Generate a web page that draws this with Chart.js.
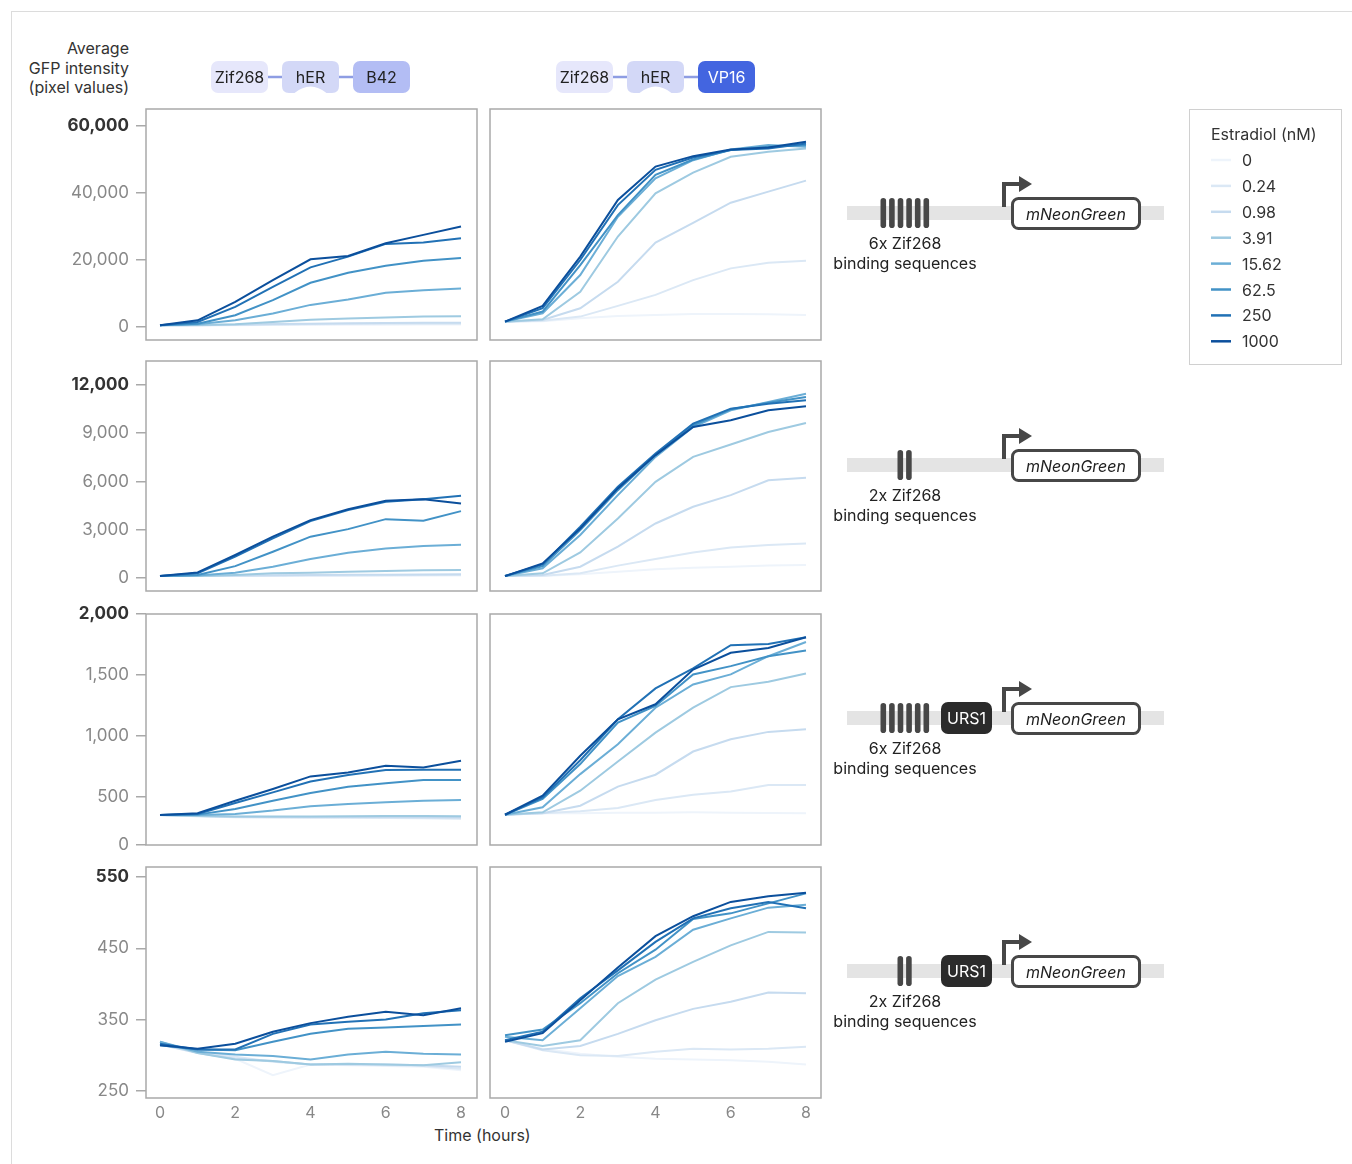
<!DOCTYPE html>
<html><head><meta charset="utf-8">
<script src="https://cdn.jsdelivr.net/npm/chart.js@4.4.1/dist/chart.umd.min.js"></script>
<style>
body{margin:0;background:#fff;font-family:Inter,"DejaVu Sans",sans-serif;}
#wrap{position:relative;width:1352px;height:1164px;overflow:hidden;background:#fff;}
#wrap canvas{position:absolute;}
#frame{position:absolute;left:11px;top:11px;width:1400px;height:1200px;border-left:1px solid #dcdcdc;border-top:1px solid #dcdcdc;}
.txt{position:absolute;color:#333;font-size:16px;white-space:nowrap;}
svg{position:absolute;left:0;top:0;}
</style></head><body><div id="wrap"><div id="frame"></div>
<div class="txt" style="left:0;width:129px;top:39px;text-align:right;line-height:19.6px;">Average<br>GFP intensity<br>(pixel values)</div>
<div class="txt" style="left:434px;top:1125px;line-height:20px;">Time (hours)</div>
</div>
<script>
// ---------- data ----------
const hours = [0, 1, 2, 3, 4, 5, 6, 7, 8];
const concentrations = ['0', '0.24', '0.98', '3.91', '15.62', '62.5', '250', '1000'];
const seriesColors = ['#eef4fb', '#dbe8f5', '#c6dbef', '#9ecae1', '#6baed6', '#4292c6', '#2171b5', '#0b4f9c'];
const xTickValues = [0, 2, 4, 6, 8];
const yTicksRow1 = [0, 20000, 40000, 60000];
const yTicksRow2 = [0, 3000, 6000, 9000, 12000];
const yTicksRow3 = [0, 500, 1000, 1500, 2000];
const yTicksRow4 = [250, 350, 450, 550];

// rows of each array follow the order of `concentrations`
const b42_6x = [
  [500, 500, 550, 600, 650, 700, 700, 750, 750],
  [500, 520, 600, 700, 800, 900, 950, 1000, 1000],
  [500, 550, 700, 900, 1000, 1100, 1200, 1250, 1300],
  [500, 600, 800, 1500, 2200, 2500, 2800, 3100, 3200],
  [500, 800, 2000, 4000, 6600, 8200, 10200, 11000, 11500],
  [500, 1000, 3500, 8000, 13200, 16200, 18300, 19800, 20600],
  [500, 1500, 6000, 12000, 17800, 21000, 24800, 25200, 26500],
  [500, 2000, 7500, 14000, 20200, 21200, 25000, 27500, 30000]
];
const vp16_6x = [
  [1600, 1700, 2600, 3300, 3600, 3900, 3900, 3800, 3600],
  [1600, 1900, 3100, 6300, 9600, 14000, 17500, 19200, 19800],
  [1600, 2100, 5600, 13500, 25200, 31100, 37100, 40400, 43700],
  [1600, 2300, 10500, 27000, 39900, 46100, 50800, 52300, 53300],
  [1600, 4100, 15500, 32900, 44400, 49800, 53000, 54300, 53800],
  [1600, 4600, 18500, 33400, 45400, 50000, 52800, 53800, 54300],
  [1600, 5600, 20000, 36400, 46900, 50600, 52800, 53300, 54800],
  [1600, 6300, 21000, 37900, 47900, 51000, 53000, 53600, 55300]
];
const b42_2x = [
  [120, 120, 125, 130, 135, 140, 140, 145, 150],
  [120, 120, 130, 140, 150, 160, 170, 180, 190],
  [120, 130, 150, 170, 190, 200, 210, 220, 230],
  [120, 120, 190, 290, 330, 390, 430, 480, 500],
  [120, 150, 330, 700, 1180, 1570, 1840, 1990, 2070],
  [120, 190, 740, 1630, 2570, 3040, 3660, 3560, 4160],
  [120, 290, 1330, 2460, 3540, 4220, 4740, 4900, 5110],
  [120, 350, 1430, 2570, 3600, 4280, 4800, 4900, 4630]
];
const vp16_2x = [
  [120, 120, 230, 390, 540, 640, 700, 770, 810],
  [120, 140, 290, 770, 1180, 1590, 1900, 2050, 2150],
  [120, 190, 700, 1950, 3390, 4430, 5150, 6080, 6230],
  [120, 290, 1590, 3700, 5980, 7530, 8300, 9080, 9640],
  [120, 600, 2670, 5150, 7530, 9390, 10430, 10940, 11460],
  [120, 740, 2980, 5460, 7640, 9500, 10490, 10900, 11260],
  [120, 850, 3190, 5670, 7740, 9600, 10530, 10840, 11050],
  [120, 910, 3080, 5570, 7640, 9390, 9810, 10430, 10680]
];
const b42_6x_urs1 = [
  [350, 342, 336, 332, 330, 333, 333, 333, 327],
  [353, 343, 335, 332, 330, 330, 328, 326, 322],
  [353, 345, 338, 336, 336, 337, 336, 335, 332],
  [353, 345, 340, 340, 340, 342, 345, 345, 342],
  [353, 353, 361, 389, 424, 443, 457, 470, 476],
  [353, 356, 402, 470, 533, 585, 614, 639, 639],
  [353, 361, 451, 538, 628, 680, 721, 723, 723],
  [353, 367, 470, 566, 669, 702, 756, 742, 797]
];
const vp16_6x_urs1 = [
  [355, 367, 367, 372, 372, 375, 372, 370, 367],
  [355, 367, 383, 410, 476, 519, 546, 598, 598],
  [355, 367, 429, 585, 683, 873, 974, 1034, 1055],
  [355, 375, 552, 791, 1028, 1232, 1401, 1445, 1513],
  [355, 416, 688, 933, 1232, 1423, 1505, 1654, 1771],
  [355, 484, 770, 1110, 1246, 1505, 1573, 1654, 1700],
  [355, 497, 802, 1137, 1390, 1554, 1744, 1755, 1809],
  [355, 511, 838, 1137, 1260, 1545, 1682, 1722, 1809]
];
const b42_2x_urs1 = [
  [316, 306, 295, 272, 287, 286, 285, 284, 279],
  [316, 305, 298, 291, 287, 287, 286, 285, 281],
  [315, 303, 295, 292, 287, 287, 287, 286, 284],
  [319, 303, 294, 292, 287, 288, 287, 286, 290],
  [319, 305, 301, 299, 294, 301, 305, 302, 301],
  [314, 308, 307, 319, 330, 337, 339, 341, 343],
  [316, 308, 308, 330, 343, 347, 350, 359, 363],
  [314, 309, 316, 333, 345, 354, 361, 356, 366]
];
const vp16_2x_urs1 = [
  [321, 309, 302, 298, 295, 294, 293, 291, 287],
  [321, 307, 300, 299, 305, 309, 308, 309, 312],
  [321, 308, 313, 330, 349, 365, 375, 388, 387],
  [321, 313, 321, 373, 406, 431, 454, 473, 472],
  [326, 321, 366, 411, 438, 476, 492, 507, 511],
  [328, 336, 373, 415, 448, 491, 499, 513, 527],
  [321, 333, 380, 419, 459, 492, 506, 515, 506],
  [319, 331, 377, 423, 467, 495, 515, 523, 528]
];

// ---------- layout ----------
const FONT = 'Inter, "DejaVu Sans", sans-serif';
const PAD = 22;
const rowTicks = [yTicksRow1, yTicksRow2, yTicksRow3, yTicksRow4];
const rowBoxes = [[109, 340], [361, 591], [614, 845], [867, 1098]];
const yRanges = [[-3881, 65075], [-808, 13492], [107, 2000], [240, 564]];
const xRanges = [[-0.372, 8.425], [-0.399, 8.399]];
const panels = [
  [b42_6x, vp16_6x], [b42_2x, vp16_2x], [b42_6x_urs1, vp16_6x_urs1], [b42_2x_urs1, vp16_2x_urs1]
];

const boxPlugin = {
  id: 'box',
  afterDatasetsDraw(chart) {
    const { ctx, chartArea: a } = chart;
    ctx.save();
    ctx.strokeStyle = '#a9a9a9';
    ctx.lineWidth = 1.5;
    ctx.strokeRect(a.left, a.top, a.right - a.left, a.bottom - a.top);
    ctx.restore();
  }
};

const wrap = document.getElementById('wrap');
const fmt = v => v.toLocaleString('en-US');

panels.forEach((pair, r) => {
  pair.forEach((series, c) => {
    const [bt, bb] = rowBoxes[r];
    const boxH = bb - bt;
    const isBottom = r === 3;
    const showY = c === 0;
    const left = c === 0 ? 40 : 487;
    const width = c === 0 ? 440 : 337;
    const height = isBottom ? boxH + PAD + 30 + 4 : boxH + 2 * PAD;
    const cv = document.createElement('canvas');
    cv.width = width; cv.height = height;
    cv.style.left = left + 'px'; cv.style.top = (bt - PAD) + 'px';
    cv.style.width = width + 'px'; cv.style.height = height + 'px';
    wrap.appendChild(cv);
    const ticks = rowTicks[r];
    const last = ticks.length - 1;
    new Chart(cv, {
      type: 'line',
      data: {
        datasets: series.map((vals, i) => ({
          label: concentrations[i],
          data: vals.map((v, k) => ({ x: hours[k], y: v })),
          borderColor: seriesColors[i],
          borderWidth: 2,
          pointRadius: 0,
          tension: 0,
          order: concentrations.length - 1 - i
        }))
      },
      options: {
        responsive: false, animation: false, devicePixelRatio: 1,
        layout: { padding: { top: PAD, bottom: isBottom ? 4 : PAD, left: showY ? 0 : 3, right: 3 } },
        plugins: { legend: { display: false }, tooltip: { enabled: false } },
        scales: {
          x: {
            type: 'linear', min: xRanges[c][0], max: xRanges[c][1], display: isBottom,
            afterFit(s) { s.height = isBottom ? 30 : 0; },
            afterBuildTicks(s) { s.ticks = xTickValues.map(v => ({ value: v })); },
            ticks: { color: '#888', font: { family: FONT, size: 16 }, padding: 6, maxRotation: 0, autoSkip: false, callback: v => String(v) },
            grid: { display: false, drawTicks: false }, border: { display: false }
          },
          y: {
            type: 'linear', min: yRanges[r][0], max: yRanges[r][1], display: showY,
            afterFit(s) { s.width = showY ? 106 : 0; },
            afterBuildTicks(s) { s.ticks = ticks.map(v => ({ value: Math.max(v, s.min) })); },
            ticks: {
              autoSkip: false, padding: 7,
              callback: (v, i) => fmt(ticks[i]),
              color: ctx => ctx.index === last ? '#333' : '#888',
              font: ctx => ({ family: FONT, size: 17, weight: ctx.index === last ? 'bold' : 'normal' })
            },
            grid: { drawOnChartArea: false, drawTicks: true, tickLength: 10, color: '#a9a9a9', lineWidth: 1.5 },
            border: { display: false }
          }
        }
      },
      plugins: [boxPlugin]
    });
  });
});

// ---------- diagrams and legend (SVG) ----------
const NS = 'http://www.w3.org/2000/svg';
const svg = document.createElementNS(NS, 'svg');
svg.setAttribute('width', 1352); svg.setAttribute('height', 1164);
wrap.appendChild(svg);
function el(tag, attrs, text) {
  const e = document.createElementNS(NS, tag);
  for (const k in attrs) e.setAttribute(k, attrs[k]);
  if (text !== undefined) e.textContent = text;
  svg.appendChild(e);
  return e;
}
function txt(x, y, s, extra) {
  return el('text', Object.assign({ x, y, 'dominant-baseline': 'central', 'font-family': FONT, 'font-size': 16, fill: '#222' }, extra || {}), s);
}

// protein headers
const headerNames = [['Zif268', 'hER', 'B42'], ['Zif268', 'hER', 'VP16']];
const headerFills = [['#e6e7fb', '#d3d8f7', '#b3bdf4'], ['#e6e7fb', '#d3d8f7', '#4365e0']];
const headerX = [211, 556];
headerNames.forEach((names, g) => {
  const x0 = headerX[g], y = 61, h = 32, w = 57, step = 71;
  el('line', { x1: x0 + w, y1: 77, x2: x0 + step, y2: 77, stroke: '#8e9de3', 'stroke-width': 2.5 });
  el('line', { x1: x0 + step + w, y1: 77, x2: x0 + 2 * step, y2: 77, stroke: '#8e9de3', 'stroke-width': 2.5 });
  names.forEach((n, i) => {
    const x = x0 + i * step, r = 7, cx = x + w / 2;
    if (n === 'hER') {
      const d = `M${x + r},${y} H${x + w - r} Q${x + w},${y} ${x + w},${y + r} V${y + h - r} Q${x + w},${y + h} ${x + w - r},${y + h} H${cx + 16} Q${cx},${y + h - 13} ${cx - 16},${y + h} H${x + r} Q${x},${y + h} ${x},${y + h - r} V${y + r} Q${x},${y} ${x + r},${y} Z`;
      el('path', { d, fill: headerFills[g][i] });
    } else {
      el('rect', { x, y, width: w, height: h, rx: r, fill: headerFills[g][i] });
    }
    txt(cx, y + h / 2, n, { 'text-anchor': 'middle', fill: n === 'VP16' ? '#fff' : '#222' });
  });
});

// DNA constructs
const constructRows = [213, 465, 718, 971];
const constructSites = [6, 2, 6, 2];
const constructUrs = [false, false, true, true];
constructRows.forEach((cy, k) => {
  el('rect', { x: 847, y: cy - 7, width: 317, height: 14, fill: '#e4e4e4' });
  const n = constructSites[k];
  const start = n === 6 ? 880.5 : 897.5;
  for (let i = 0; i < n; i++) {
    el('rect', { x: start + i * 8.6, y: cy - 15, width: 5.6, height: 30, rx: 2.8, fill: '#474747' });
  }
  txt(905, cy + 30, `${n}x Zif268`, { 'text-anchor': 'middle' });
  txt(905, cy + 50, 'binding sequences', { 'text-anchor': 'middle' });
  if (constructUrs[k]) {
    el('rect', { x: 941, y: cy - 16, width: 51, height: 32, rx: 7, fill: '#2b2b2b' });
    txt(966.5, cy, 'URS1', { 'text-anchor': 'middle', fill: '#fff' });
  }
  el('path', { d: `M1004,${cy - 6} V${cy - 29} H1021`, fill: 'none', stroke: '#474747', 'stroke-width': 4 });
  el('path', { d: `M1019,${cy - 37} L1032,${cy - 29} L1019,${cy - 21} Z`, fill: '#474747' });
  el('rect', { x: 1012.5, y: cy - 14.5, width: 127, height: 30, rx: 6, fill: '#fff', stroke: '#474747', 'stroke-width': 3 });
  txt(1076, cy + 0.5, 'mNeonGreen', { 'text-anchor': 'middle', 'font-style': 'italic', fill: '#222' });
});

// legend
el('rect', { x: 1189.5, y: 109.5, width: 152, height: 255, fill: '#fff', stroke: '#d0d0d0', 'stroke-width': 1 });
txt(1211, 134, 'Estradiol (nM)', { fill: '#333' });
concentrations.forEach((c, i) => {
  const y = 160 + i * 25.9;
  el('line', { x1: 1211, y1: y, x2: 1231, y2: y, stroke: seriesColors[i], 'stroke-width': 2.5 });
  txt(1242, y, c, { fill: '#333' });
});
</script></body></html>
